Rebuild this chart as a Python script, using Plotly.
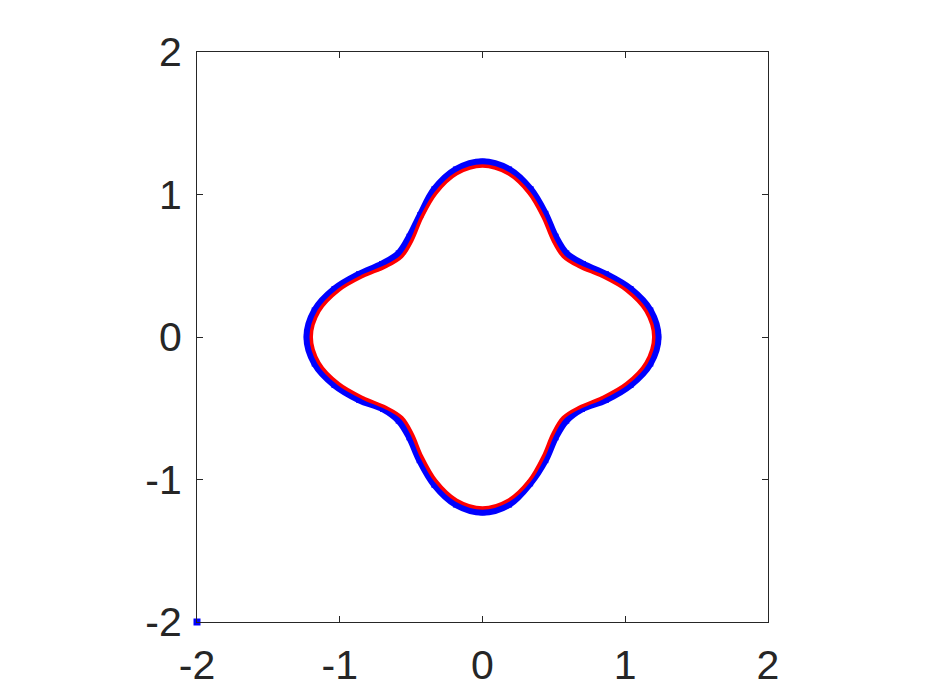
import numpy as np
import plotly.graph_objects as go

# polar samples of the boundary (degrees, radius)
angles_deg = [0, 9, 18, 27, 36, 45, 54, 63, 72, 81,
              90, 99, 108, 117, 126, 135, 144, 153, 162, 171,
              180, 189, 198, 207, 216, 225, 234, 243, 252, 261,
              270, 279, 288, 297, 306, 315, 324, 333, 342, 351]
red_r = [1.20, 1.16, 1.06, 0.94, 0.84, 0.80, 0.84, 0.94, 1.06, 1.16,
         1.20, 1.16, 1.06, 0.94, 0.84, 0.80, 0.84, 0.94, 1.06, 1.16,
         1.20, 1.16, 1.06, 0.94, 0.84, 0.80, 0.84, 0.94, 1.06, 1.16,
         1.20, 1.16, 1.06, 0.94, 0.84, 0.80, 0.84, 0.94, 1.06, 1.16]
blue_r = [1.23, 1.19, 1.09, 0.97, 0.87, 0.83, 0.87, 0.97, 1.09, 1.19,
          1.23, 1.19, 1.09, 0.96, 0.87, 0.83, 0.87, 0.97, 1.09, 1.19,
          1.23, 1.19, 1.09, 0.97, 0.86, 0.83, 0.87, 0.97, 1.09, 1.19,
          1.23, 1.19, 1.08, 0.97, 0.87, 0.83, 0.86, 0.97, 1.09, 1.19]
outlier_x = [-2.0]
outlier_y = [-2.0]
ticks = [-2, -1, 0, 1, 2]
tick_labels = ["-2", "-1", "0", "1", "2"]


def to_xy(deg, r):
    th = np.deg2rad(np.append(deg, deg[0]))
    rr = np.append(r, r[0])
    return rr * np.cos(th), rr * np.sin(th)


bx, by = to_xy(angles_deg, blue_r)
rx, ry = to_xy(angles_deg, red_r)

fig = go.Figure()
fig.add_trace(go.Scatter(x=bx, y=by, mode="lines+markers",
                         line=dict(color="#0000ff", width=7, shape="spline"),
                         marker=dict(symbol="square", size=6, color="#0000ff")))
fig.add_trace(go.Scatter(x=outlier_x, y=outlier_y, mode="markers", cliponaxis=False,
                         marker=dict(symbol="square", size=7, color="#0000ff")))
fig.add_trace(go.Scatter(x=rx, y=ry, mode="lines",
                         line=dict(color="#ff0000", width=3.5, shape="spline")))

axis = dict(range=[-2, 2], tickvals=ticks, ticktext=tick_labels, ticks="inside",
            ticklen=6, tickcolor="#262626", automargin=False,
            showgrid=False, zeroline=False, showline=True, mirror="ticks",
            linecolor="#262626", linewidth=1,
            tickfont=dict(family="Liberation Sans, Arial", size=41, color="#262626"))
fig.update_xaxes(**axis, ticklabelstandoff=7)
fig.update_yaxes(**axis, ticklabelstandoff=6)
# the page body adds an 8px margin, so the figure is a bit smaller than the window
fig.update_layout(width=926, height=692, showlegend=False,
                  plot_bgcolor="white", paper_bgcolor="white",
                  margin=dict(l=189, r=166, t=44, b=78))
fig.write_html("out.html")
